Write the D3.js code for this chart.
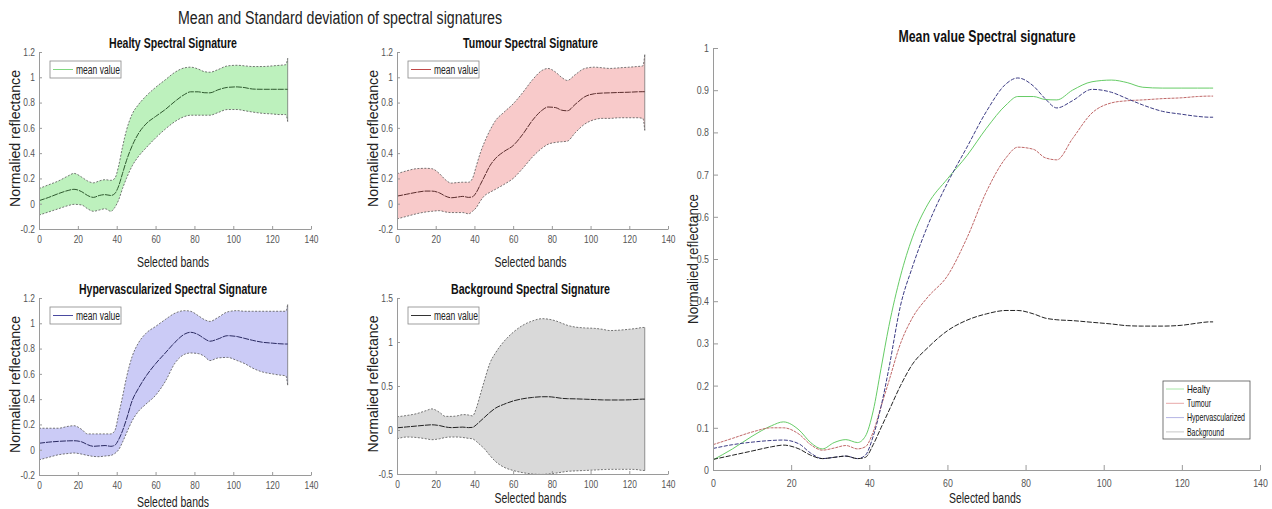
<!DOCTYPE html>
<html>
<head>
<meta charset="utf-8">
<script src="https://cdn.jsdelivr.net/npm/d3@7"></script>
<style>
  body { margin: 0; background: #fff; }
  svg { display: block; }
  text { font-family: "Liberation Sans", Arial, sans-serif; }
  .tick text { fill: #555; }
  .domain, .tick line { stroke: #9a9a9a; }
</style>
</head>
<body>
<script>
// band positions where the curves were read
var bands = [0, 5, 10, 15, 18, 22, 25, 28, 31, 34, 37, 39, 41, 43, 45, 48, 51, 55, 60, 65,
             70, 75, 78, 82, 85, 88, 92, 97, 102, 106, 110, 115, 120, 124, 127, 128];

var healthyMean = [0.024, 0.05, 0.08, 0.105, 0.114, 0.095, 0.065, 0.05, 0.065, 0.072, 0.065, 0.08, 0.14, 0.24, 0.34, 0.46, 0.55, 0.63, 0.69, 0.745,
                   0.81, 0.865, 0.885, 0.885, 0.878, 0.877, 0.9, 0.92, 0.924, 0.918, 0.907, 0.905, 0.905, 0.905, 0.905, 0.905];
var healthyUpper = [0.12, 0.15, 0.18, 0.22, 0.24, 0.21, 0.18, 0.165, 0.18, 0.19, 0.185, 0.2, 0.3, 0.45, 0.58, 0.71, 0.78, 0.85, 0.92, 0.98,
                    1.04, 1.075, 1.08, 1.065, 1.045, 1.04, 1.06, 1.09, 1.095, 1.09, 1.085, 1.085, 1.09, 1.095, 1.1, 1.15];
var healthyLower = [-0.09, -0.065, -0.04, -0.015, -0.005, -0.01, -0.04, -0.06, -0.05, -0.04, -0.06, -0.03, 0.03, 0.12, 0.2, 0.3, 0.37, 0.44, 0.52, 0.59,
                    0.65, 0.69, 0.70, 0.70, 0.70, 0.70, 0.72, 0.745, 0.745, 0.735, 0.725, 0.715, 0.71, 0.705, 0.705, 0.65];

var tumourMean = [0.06, 0.075, 0.09, 0.1, 0.1, 0.085, 0.06, 0.047, 0.052, 0.058, 0.05, 0.055, 0.09, 0.15, 0.21, 0.3, 0.36, 0.41, 0.46, 0.55,
                  0.66, 0.74, 0.765, 0.76, 0.74, 0.735, 0.785, 0.846, 0.87, 0.875, 0.877, 0.88, 0.882, 0.885, 0.886, 0.886];
var tumourUpper = [0.237, 0.26, 0.277, 0.28, 0.277, 0.237, 0.19, 0.163, 0.167, 0.17, 0.17, 0.2, 0.3, 0.4, 0.48, 0.58, 0.66, 0.72, 0.79, 0.88,
                   0.98, 1.055, 1.07, 1.04, 1.0, 0.975, 1.02, 1.07, 1.08, 1.075, 1.07, 1.075, 1.08, 1.085, 1.09, 1.18];
var tumourLower = [-0.12, -0.1, -0.08, -0.065, -0.06, -0.055, -0.065, -0.07, -0.07, -0.07, -0.08, -0.06, -0.03, 0.02, 0.06, 0.09, 0.115, 0.15, 0.2, 0.28,
                   0.37, 0.44, 0.47, 0.485, 0.49, 0.495, 0.56, 0.63, 0.665, 0.675, 0.675, 0.68, 0.68, 0.68, 0.675, 0.58];

var hyperMean = [0.051, 0.06, 0.066, 0.07, 0.071, 0.062, 0.04, 0.027, 0.03, 0.033, 0.027, 0.035, 0.08, 0.15, 0.24, 0.39, 0.48, 0.58, 0.68, 0.765,
                 0.85, 0.915, 0.929, 0.91, 0.88, 0.858, 0.875, 0.902, 0.895, 0.88, 0.865, 0.85, 0.843, 0.838, 0.836, 0.836];
var hyperUpper = [0.17, 0.17, 0.17, 0.185, 0.19, 0.16, 0.125, 0.125, 0.125, 0.125, 0.125, 0.15, 0.28, 0.42, 0.57, 0.74, 0.84, 0.92, 0.975, 1.03,
                  1.08, 1.10, 1.095, 1.06, 1.03, 1.015, 1.045, 1.09, 1.1, 1.095, 1.095, 1.095, 1.095, 1.095, 1.095, 1.15];
var hyperLower = [-0.08, -0.06, -0.04, -0.03, -0.026, -0.035, -0.045, -0.053, -0.055, -0.05, -0.045, -0.03, 0.0, 0.06, 0.13, 0.23, 0.3, 0.36, 0.43, 0.54,
                  0.685, 0.755, 0.765, 0.76, 0.74, 0.705, 0.725, 0.73, 0.705, 0.68, 0.645, 0.615, 0.6, 0.59, 0.585, 0.51];

var backgroundMean = [0.025, 0.035, 0.045, 0.055, 0.059, 0.05, 0.035, 0.027, 0.03, 0.033, 0.027, 0.03, 0.06, 0.1, 0.14, 0.2, 0.25, 0.29, 0.33, 0.355,
                      0.37, 0.378, 0.378, 0.37, 0.36, 0.356, 0.354, 0.35, 0.346, 0.342, 0.341, 0.341, 0.343, 0.348, 0.351, 0.351];
var backgroundUpper = [0.15, 0.165, 0.185, 0.22, 0.24, 0.2, 0.155, 0.155, 0.16, 0.175, 0.17, 0.16, 0.25, 0.4, 0.55, 0.76, 0.88, 1.0, 1.11, 1.19,
                       1.24, 1.265, 1.26, 1.24, 1.215, 1.19, 1.17, 1.16, 1.155, 1.145, 1.13, 1.135, 1.145, 1.155, 1.165, 1.165];
var backgroundLower = [-0.1, -0.08, -0.085, -0.1, -0.11, -0.1, -0.085, -0.08, -0.08, -0.085, -0.095, -0.1, -0.13, -0.17, -0.21, -0.29, -0.36, -0.42, -0.46, -0.485,
                       -0.5, -0.505, -0.5, -0.49, -0.48, -0.47, -0.465, -0.46, -0.455, -0.45, -0.447, -0.447, -0.447, -0.45, -0.46, -0.46];

var xTicks = [0, 20, 40, 60, 80, 100, 120, 140];
var smallYTicks = [-0.2, 0, 0.2, 0.4, 0.6, 0.8, 1, 1.2];
var bgYTicks = [-0.5, 0, 0.5, 1, 1.5];
var meanYTicks = [0, 0.1, 0.2, 0.3, 0.4, 0.5, 0.6, 0.7, 0.8, 0.9, 1];
var seriesNames = ["Healty", "Tumour", "Hypervascularized", "Background"];

var fmt = function(d) { return String(+d.toFixed(2)); };

// the original uses a condensed face; squeeze text to a given width
function squeeze(sel, w) {
    sel.attr("textLength", w).attr("lengthAdjust", "spacingAndGlyphs");
}
function narrowTicks(a, size) {
    a.selectAll("text").style("font-size", size).each(function() {
        var t = d3.select(this);
        squeeze(t, this.getComputedTextLength() * 0.8);
    });
}

var svg = d3.select("body").append("svg")
    .attr("width", 1272)
    .attr("height", 509);

svg.append("text")
    .attr("x", 340).attr("y", 24)
    .attr("text-anchor", "middle")
    .style("font-size", "18px")
    .attr("fill", "#222")
    .text("Mean and Standard deviation of spectral signatures")
    .call(squeeze, 324);

function drawPanel(p) {
    var x = d3.scaleLinear().domain([0, 140]).range([p.left, p.right]);
    var y = d3.scaleLinear().domain(p.yDomain).range([p.bottom, p.top]);
    var g = svg.append("g");

    // std band
    var pts = bands.map(function(b, i) { return { b: b, m: p.mean[i], u: p.upper[i], l: p.lower[i] }; });
    g.append("path")
        .datum(pts)
        .attr("fill", p.fill)
        .attr("d", d3.area().curve(d3.curveMonotoneX)
            .x(function(d) { return x(d.b); })
            .y0(function(d) { return y(d.l); })
            .y1(function(d) { return y(d.u); }));

    ["u", "l"].forEach(function(k) {
        g.append("path")
            .datum(pts)
            .attr("fill", "none")
            .attr("stroke", "#555")
            .attr("stroke-width", 0.8)
            .attr("stroke-dasharray", "2,1.5")
            .attr("d", d3.line().curve(d3.curveMonotoneX)
                .x(function(d) { return x(d.b); })
                .y(function(d) { return y(d[k]); }));
    });
    g.append("line")
        .attr("x1", x(128)).attr("x2", x(128))
        .attr("y1", y(p.upper[p.upper.length - 1])).attr("y2", y(p.lower[p.lower.length - 1]))
        .attr("stroke", "#666").attr("stroke-width", 0.7);

    g.append("path")
        .datum(pts)
        .attr("fill", "none")
        .attr("stroke", p.meanColor)
        .attr("stroke-width", 1)
        .attr("stroke-dasharray", "6,1")
        .attr("d", d3.line().curve(d3.curveMonotoneX)
            .x(function(d) { return x(d.b); })
            .y(function(d) { return y(d.m); }));

    // axes
    g.append("g")
        .attr("transform", "translate(0," + p.bottom + ")")
        .call(d3.axisBottom(x).tickValues(xTicks).tickSizeInner(-3).tickSizeOuter(0).tickPadding(7).tickFormat(fmt))
        .call(narrowTicks, "10.5px");
    g.append("g")
        .attr("transform", "translate(" + p.left + ",0)")
        .call(d3.axisLeft(y).tickValues(p.yTicks).tickSizeInner(-3).tickSizeOuter(0).tickPadding(4).tickFormat(fmt))
        .call(narrowTicks, "10.5px");

    // titles and labels
    g.append("text")
        .attr("x", (p.left + p.right) / 2 - 2).attr("y", p.top - 4)
        .attr("text-anchor", "middle")
        .style("font-size", "14px").style("font-weight", "bold")
        .attr("fill", "#111")
        .text(p.title)
        .call(squeeze, p.titleWidth);
    g.append("text")
        .attr("x", (p.left + p.right) / 2 - 2).attr("y", p.xLabelY)
        .attr("text-anchor", "middle")
        .style("font-size", "14px")
        .attr("fill", "#222")
        .text("Selected bands")
        .call(squeeze, 72);
    g.append("text")
        .attr("transform", "translate(" + (p.left - 24) + "," + ((p.top + p.bottom) / 2 - 2) + ") rotate(-90)")
        .attr("text-anchor", "middle")
        .attr("dy", "0.35em")
        .style("font-size", "15px")
        .attr("fill", "#222")
        .text("Normalied reflectance")
        .call(squeeze, 137);

    // legend
    var lx = p.left + 11, ly = p.top + 9;
    g.append("rect")
        .attr("x", lx).attr("y", ly).attr("width", 71).attr("height", 17)
        .attr("fill", "#fff").attr("stroke", "#888").attr("stroke-width", 0.8);
    g.append("line")
        .attr("x1", lx + 3).attr("x2", lx + 23).attr("y1", ly + 8.5).attr("y2", ly + 8.5)
        .attr("stroke", p.legendColor).attr("stroke-width", 1);
    g.append("text")
        .attr("x", lx + 26).attr("y", ly + 8.5).attr("dy", "0.35em")
        .style("font-size", "12px").attr("fill", "#222")
        .text("mean value")
        .call(squeeze, 44);
}

drawPanel({ left: 39, right: 311, top: 52, bottom: 229, yDomain: [-0.2, 1.2], yTicks: smallYTicks,
    mean: healthyMean, upper: healthyUpper, lower: healthyLower, fill: "#bdf1bd",
    meanColor: "#2f5a2f", legendColor: "#80d880", title: "Healty Spectral Signature", titleWidth: 128, xLabelY: 267 });
drawPanel({ left: 397, right: 668, top: 52, bottom: 229, yDomain: [-0.2, 1.2], yTicks: smallYTicks,
    mean: tumourMean, upper: tumourUpper, lower: tumourLower, fill: "#f8caca",
    meanColor: "#5a2c2c", legendColor: "#c04848", title: "Tumour Spectral Signature", titleWidth: 135, xLabelY: 267 });
drawPanel({ left: 39, right: 311, top: 298, bottom: 475, yDomain: [-0.2, 1.2], yTicks: smallYTicks,
    mean: hyperMean, upper: hyperUpper, lower: hyperLower, fill: "#cbcbf6",
    meanColor: "#2a2a62", legendColor: "#4a4aa0", title: "Hypervascularized Spectral Signature", titleWidth: 188, xLabelY: 507 });
drawPanel({ left: 397, right: 668, top: 298, bottom: 474, yDomain: [-0.5, 1.5], yTicks: bgYTicks,
    mean: backgroundMean, upper: backgroundUpper, lower: backgroundLower, fill: "#d9d9d9",
    meanColor: "#222", legendColor: "#333", title: "Background Spectral Signature", titleWidth: 159, xLabelY: 503 });

// Right: mean values of the four classes
var mx = d3.scaleLinear().domain([0, 140]).range([713, 1260]);
var my = d3.scaleLinear().domain([0, 1]).range([470, 48]);
var means = [healthyMean, tumourMean, hyperMean, backgroundMean];
var lineColors = ["#66cc66", "#c06868", "#3c3c84", "#222"];
var dashes = [null, "3,1", "4,1.5", "5,1.5"];
var legendColors = ["#a8e6a8", "#e8a8a8", "#b4b4e4", "#c8c8c8"];

var mg = svg.append("g");
means.forEach(function(vals, s) {
    mg.append("path")
        .datum(bands.map(function(b, i) { return [b, vals[i]]; }))
        .attr("fill", "none")
        .attr("stroke", lineColors[s])
        .attr("stroke-width", 1)
        .attr("stroke-dasharray", dashes[s])
        .attr("d", d3.line().curve(d3.curveMonotoneX)
            .x(function(d) { return mx(d[0]); })
            .y(function(d) { return my(d[1]); }));
});

mg.append("g")
    .attr("transform", "translate(0,470)")
    .call(d3.axisBottom(mx).tickValues(xTicks).tickSizeInner(-5).tickSizeOuter(0).tickPadding(9).tickFormat(fmt))
    .call(narrowTicks, "11px");
mg.append("g")
    .attr("transform", "translate(713,0)")
    .call(d3.axisLeft(my).tickValues(meanYTicks).tickSizeInner(-5).tickSizeOuter(0).tickPadding(4).tickFormat(fmt))
    .call(narrowTicks, "11px");

mg.append("text")
    .attr("x", 987).attr("y", 42)
    .attr("text-anchor", "middle")
    .style("font-size", "16px").style("font-weight", "bold")
    .attr("fill", "#111")
    .text("Mean value Spectral signature")
    .call(squeeze, 177);
mg.append("text")
    .attr("x", 985).attr("y", 503)
    .attr("text-anchor", "middle")
    .style("font-size", "14px").attr("fill", "#222")
    .text("Selected bands")
    .call(squeeze, 72);
mg.append("text")
    .attr("transform", "translate(693,259) rotate(-90)")
    .attr("text-anchor", "middle")
    .attr("dy", "0.35em")
    .style("font-size", "14px").attr("fill", "#222")
    .text("Normalied reflectance")
    .call(squeeze, 130);

// legend
mg.append("rect")
    .attr("x", 1163).attr("y", 381).attr("width", 87).attr("height", 58)
    .attr("fill", "#fff").attr("stroke", "#555").attr("stroke-width", 0.8);
var legendWidths = [23, 24, 58, 37];
seriesNames.forEach(function(name, s) {
    var yy = 389 + s * 14.3;
    mg.append("line")
        .attr("x1", 1166).attr("x2", 1184).attr("y1", yy).attr("y2", yy)
        .attr("stroke", legendColors[s]).attr("stroke-width", 1);
    mg.append("text")
        .attr("x", 1187).attr("y", yy).attr("dy", "0.35em")
        .style("font-size", "11px").attr("fill", "#111")
        .text(name)
        .call(squeeze, legendWidths[s]);
});
</script>
</body>
</html>
